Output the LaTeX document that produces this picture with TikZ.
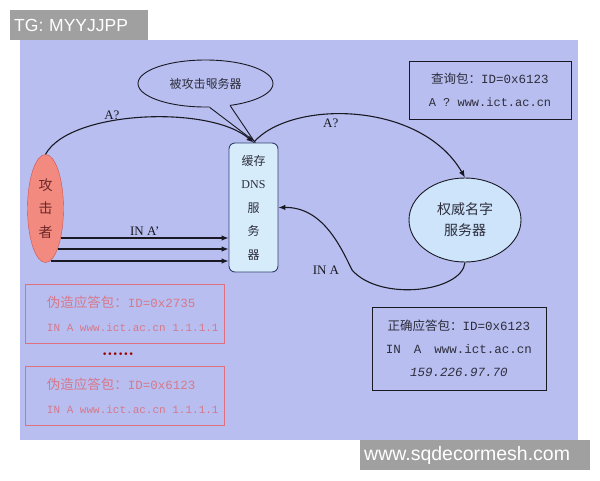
\documentclass[tikz,border=0pt]{standalone}
\usepackage{fontspec}
\setmainfont{Liberation Serif}
\newfontfamily\cjk{Noto Sans CJK SC}
\newfontfamily\mono{Liberation Mono}
\newfontfamily\wmfont{Liberation Sans}
\newfontfamily\symf{DejaVu Sans}
\usetikzlibrary{shapes.geometric,arrows.meta}
\definecolor{panel}{RGB}{184,191,240}
\definecolor{linec}{RGB}{25,25,35}
\definecolor{attfill}{RGB}{242,138,128}
\definecolor{attdraw}{RGB}{205,80,80}
\definecolor{atttext}{RGB}{110,40,40}
\definecolor{cachefill}{RGB}{214,236,250}
\definecolor{cachedraw}{RGB}{50,65,110}
\definecolor{authfill}{RGB}{205,228,250}
\definecolor{fakered}{RGB}{222,112,128}
\definecolor{faketext}{RGB}{214,120,140}
\definecolor{wmgray}{RGB}{160,160,160}
\definecolor{boxtext}{RGB}{45,45,60}
\begin{document}
\begin{tikzpicture}[x=1pt,y=-1pt,
  line/.style={draw=linec, line width=1.1pt},
  arr/.style={line, -{Latex[length=7pt,width=5.5pt]}},
  lbl/.style={text=linec, font=\fontsize{13}{15}\selectfont},
  infobox/.style={draw=linec, line width=0.9pt, align=center, text=boxtext},
  fakebox/.style={draw=fakered, line width=1pt, align=left, text=faketext,
    text width=196pt, inner xsep=1.5pt, minimum height=59pt},
  wmbox/.style={fill=wmgray, text=white, align=left, inner xsep=4pt,
    minimum height=30pt}]
\useasboundingbox (0,0) rectangle (600,480);
\fill[white] (0,0) rectangle (600,480);
\fill[panel] (20,40) rectangle (578,440);

% nodes
\node[draw=attdraw, fill=attfill, ellipse, minimum width=36pt, minimum height=108pt,
  inner sep=0pt, align=center, text=atttext, font=\cjk\fontsize{14}{23.5}\selectfont]
  (att) at (45.5,208.5) {攻\\击\\者};
\node[draw=cachedraw, line width=0.9pt, fill=cachefill, rounded corners=6pt,
  minimum width=49pt, minimum height=129pt, align=center, text=boxtext,
  font=\cjk\fontsize{12}{23.5}\selectfont]
  (cache) at (253.5,207.5) {缓存\\{\rmfamily DNS}\\服\\务\\器};
\node[draw=linec, ellipse, line width=0.9pt, minimum width=135pt, minimum height=47pt,
  font=\cjk\fontsize{12}{14}\selectfont, text=boxtext]
  (callout) at (205.5,83.5) {被攻击服务器};
\node[draw=linec, line width=0.9pt, ellipse, fill=authfill, minimum width=112pt,
  minimum height=84pt, align=center, font=\cjk\fontsize{14}{21}\selectfont, text=boxtext]
  (auth) at (465,220) {权威名字\\服务器};
\node[infobox, minimum width=162pt, minimum height=58pt, font=\fontsize{12.5}{23}\selectfont]
  (query) at (490,90) {{\cjk 查询包：}{\mono ID=0x6123}\\{\mono\fontsize{12}{23}\selectfont A ? www.ict.ac.cn}};
\node[infobox, minimum width=174pt, minimum height=83pt, font=\fontsize{12.5}{23}\selectfont]
  (correct) at (459,348.5) {{\cjk 正确应答包：}{\mono ID=0x6123}\\
  {\mono IN\hspace{13pt}A\hspace{13pt}www.ict.ac.cn}\\{\mono\itshape 159.226.97.70}};
\node[fakebox, font=\fontsize{12.5}{24}\selectfont]
  (fake1) at (124.5,313.5) {\hspace*{20.5pt}{\cjk\fontsize{13.5}{24}\selectfont 伪造应答包：}{\mono ID=0x2735}\\\hspace*{20.5pt}{\mono\fontsize{11}{24}\selectfont IN\hspace{6.6pt}A\hspace{6.6pt}www.ict.ac.cn\hspace{6.6pt}1.1.1.1}};
\node[text=red!60!black, font=\symf\fontsize{9}{10}\selectfont, inner sep=0pt]
  (dots) at (118,355) {••••••};
\node[fakebox, font=\fontsize{12.5}{24}\selectfont]
  (fake2) at (124.5,395.5) {\hspace*{20.5pt}{\cjk\fontsize{13.5}{24}\selectfont 伪造应答包：}{\mono ID=0x6123}\\\hspace*{20.5pt}{\mono\fontsize{11}{24}\selectfont IN\hspace{6.6pt}A\hspace{6.6pt}www.ict.ac.cn\hspace{6.6pt}1.1.1.1}};

% callout tail (open speech-bubble tail)
\coordinate (tip) at (254,141);
\fill[panel] (callout.-80) -- (tip) -- (callout.-42) -- (callout.center) -- cycle;
\draw[line, line width=0.9pt] (callout.-80) -- (tip) -- (callout.-42);

% connectors
\draw[arr] (att.north) .. controls (70,110) and (210,105) .. (cache.north)
  node[lbl, pos=0.38, anchor=south, inner sep=1pt] {A?};
\draw[arr] (cache.north) .. controls (290,100) and (420,100) .. (auth.north)
  node[lbl, pos=0.4, anchor=north, inner sep=4pt] {A?};
\draw[arr] (auth.south) .. controls (462,292) and (380,302) .. (352,270)
  node[lbl, anchor=east, xshift=-9pt] {IN A}
  .. controls (340,245) and (322,207) .. (cache.east);

\coordinate (s1) at (61,238);
\coordinate (s2) at (58,249);
\coordinate (s3) at (51,261);
\draw[arr] (s1) -- (s1 -| cache.west) node[lbl, midway, above, inner sep=1.5pt] {IN A'};
\draw[arr] (s2) -- (s2 -| cache.west);
\draw[arr] (s3) -- (s3 -| cache.west);

% watermark labels
\node[wmbox, text width=130pt, anchor=north west, font=\wmfont\fontsize{17.5}{20}\selectfont]
  (tg) at (10,10) {TG: MYYJJPP};
\node[wmbox, text width=222pt, anchor=north west, font=\wmfont\fontsize{19.5}{20}\selectfont]
  (site) at (360,440) {www.sqdecormesh.com};
\end{tikzpicture}
\end{document}
